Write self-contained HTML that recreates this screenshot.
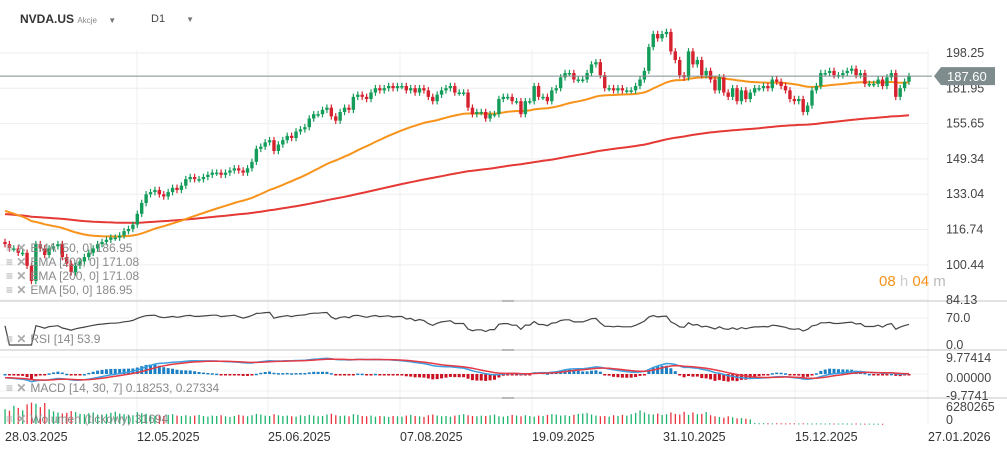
<!DOCTYPE html>
<html><head><meta charset="utf-8">
<style>
html,body{margin:0;padding:0;background:#fff;width:1007px;height:450px;overflow:hidden;font-family:"Liberation Sans",sans-serif;}
#wrap{position:relative;width:1007px;height:450px;}
svg{position:absolute;left:0;top:0;}
.lg{position:absolute;font-size:12px;color:#8a8a8a;white-space:nowrap;}
.ic{color:#aaa;font-weight:bold;margin-right:4px;}
</style></head><body>
<div id="wrap">
<svg id="chart" width="1007" height="450"></svg>
<div class="lg" style="left:20px;top:12px;color:#333;font-weight:bold;font-size:12px;">NVDA.US <span style="font-size:8px;color:#888;font-weight:normal">Akcje</span> <span style="font-size:8px;color:#777;margin-left:8px">▼</span></div>
<div class="lg" style="left:151px;top:13px;color:#444;font-size:11px;">D1 <span style="font-size:8px;color:#777;margin-left:18px">▼</span></div>
<div class="lg" style="left:6px;top:241px"><span class="ic">≡ ✕</span>EMA [50, 0] 186.95</div>
<div class="lg" style="left:6px;top:255px"><span class="ic">≡ ✕</span>EMA [200, 0] 171.08</div>
<div class="lg" style="left:6px;top:269px"><span class="ic">≡ ✕</span>EMA [200, 0] 171.08</div>
<div class="lg" style="left:6px;top:283px"><span class="ic">≡ ✕</span>EMA [50, 0] 186.95</div>
<div class="lg" style="left:6px;top:332px"><span class="ic">≡ ✕</span>RSI [14] 53.9</div>
<div class="lg" style="left:6px;top:381px"><span class="ic">≡ ✕</span>MACD [14, 30, 7] 0.18253, 0.27334</div>
<div class="lg" style="left:6px;top:412px"><span class="ic">≡ ✕</span>Wolumen (tickowy) 31694</div>
<div class="lg" style="left:879px;top:273px;font-size:15px;"><span style="color:#f7931a">08</span><span style="color:#ccc"> h </span><span style="color:#f7931a">04</span><span style="color:#bbb"> m</span></div>
</div>
<script>
const closes=[110,108,108,106,106,100,93,110,108,105,108,109,110,104,101,97,100,102,104,106,108,110,111,112,113,113,114,116,117,119,124,129,133,134,135,133,132,134,136,135,137,140,141,140,140,141,142,143,143,142,143,144,145,144,143,145,148,154,155,157,158,153,156,158,160,159,162,163,164,168,170,170,172,173,169,167,171,173,172,178,179,178,177,180,182,181,182,183,182,183,183,181,182,180,182,181,178,176,179,181,182,183,
180,180,180,173,170,171,171,168,170,170,177,178,178,176,176,170,176,176,183,178,178,176,181,182,187,189,189,186,186,186,189,193,194,188,182,182,181,182,181,181,181,183,186,190,201,207,205,207,208,199,195,188,187,199,193,195,188,190,186,181,187,180,178,182,176,181,177,180,182,182,183,182,186,185,183,181,177,176,177,171,174,181,183,189,189,190,188,188,189,190,191,188,189,184,184,184,186,183,187,189,178,182,185,187.6];
const volumes=[4200,3800,5200,4600,3900,5600,6100,5800,4800,6000,4200,3600,3300,3000,3200,3700,3400,2900,2800,3100,3300,2700,2600,2900,3200,3500,3000,2800,2600,2500,
3400,3100,2900,2600,2400,2500,2300,2600,2800,2400,2300,2500,2200,2400,2600,2300,2100,2400,2300,2500,2200,2000,2300,2600,2400,2200,2500,2900,2700,2400,2300,2800,2500,2300,2400,2200,2100,2500,2300,2600,2400,2200,2300,2700,2900,2500,2300,2400,2200,2800,2600,2300,2200,2400,2100,2300,2200,2000,2300,2200,2100,2400,2600,2300,2200,2000,2500,2700,2400,2200,
2300,2100,2400,2600,2800,2500,2300,2200,2400,2300,2500,2700,2200,2100,2300,2600,2400,2200,2500,2300,2100,2400,2300,2600,2800,2700,2400,2500,2300,2600,2900,3000,3100,2700,2400,2200,2300,2100,2500,2300,2600,2400,2800,3200,3900,3300,2800,2700,3000,2600,2800,3300,2900,2700,3500,2600,3300,2800,2900,3400,2500,2200,2000,1800,2200,1900,1600,1700,1500,1300,
260,220,240,200,180,210,190,170,200,180,160,190,170,150,180,160,140,170,150,130,160,140,120,150,130,110,120,100,90,80];
const priceTickVals=[198.25,181.95,165.65,149.34,133.04,116.74,100.44,84.13];
const priceTickLabels=["198.25","181.95","155.65","149.34","133.04","116.74","100.44","84.13"];
const dateLabels=["28.03.2025","12.05.2025","25.06.2025","07.08.2025","19.09.2025","31.10.2025","15.12.2025","27.01.2026"];
const rsiTicks=[70,0];
const macdTickVals=[9.77414,0,-9.77414];
const macdTickLabels=["9.77414","0.00000","-9.7741"];
const volTickVals=[6280265,0];
const emaSeeds=[126,124];
const lastPrice=187.60;

const svg=document.getElementById('chart');
const NS='http://www.w3.org/2000/svg';
function el(tag,attrs,parent){const e=document.createElementNS(NS,tag);for(const k in attrs)e.setAttribute(k,attrs[k]);(parent||svg).appendChild(e);return e;}
const X0=5,X1=909,n=closes.length;
const xOf=i=>X0+i*(X1-X0)/(n-1);
const yP=v=>53+(198.25-v)*35.3/16.3;
const yR=v=>345-v*27/70;
const yM=v=>374-v*17/9.77414;
const yV=v=>424-v/6280265*22;

const grid=el('g',{});


priceTickVals.forEach(v=>el('line',{x1:0,x2:928,y1:yP(v),y2:yP(v),stroke:'#eeeeee','stroke-width':1},grid));
[yR(70),yM(9.77414),yM(0),yM(-9.77414)].forEach(y=>el('line',{x1:0,x2:928,y1:y,y2:y,stroke:'#f0f0f0'},grid));
const gx=[5,137,268,400,532,663,795,928];
gx.slice(1).forEach(x=>el('line',{x1:x,x2:x,y1:50,y2:424,stroke:'#efefef'},grid));
[301,350,398].forEach(y=>{el('line',{x1:0,x2:1007,y1:y,y2:y,stroke:'#d8d8d8','stroke-width':1.5},grid);el('line',{x1:502,x2:514,y1:y,y2:y,stroke:'#bbb','stroke-width':2},grid);});

function ema(arr,p,seed){const a=2/(p+1);let e=seed,out=[];arr.forEach(v=>{e=e+a*(v-e);out.push(e);});return out;}
const ema50=ema(closes,50,emaSeeds[0]),ema200=ema(closes,200,emaSeeds[1]);
function pathOf(vals,yf){return vals.map((v,i)=>(i?'L':'M')+xOf(i).toFixed(1)+' '+yf(v).toFixed(1)).join(' ');}
const l200=el('path',{d:pathOf(ema200,yP),fill:'none',stroke:'#e53935','stroke-width':2});


const l50=el('path',{d:pathOf(ema50,yP),fill:'none',stroke:'#f7931a','stroke-width':2});



const cg=el('g',{});


closes.forEach((c,i)=>{
  const o=i?closes[i-1]:c+1;const up=c>=o;const col=up?'#149c5a':'#d6212e';
  const x=xOf(i);const hi=Math.max(o,c)+1.5,lo=Math.min(o,c)-1.5;
  const g=el('g',{},cg);
  
  
  el('line',{x1:x,x2:x,y1:yP(hi),y2:yP(lo),stroke:col,'stroke-width':1.2},g);
  const y1=yP(Math.max(o,c)),y2=yP(Math.min(o,c));
  el('rect',{x:x-1.7,y:y1,width:3.4,height:Math.max(1.5,y2-y1),fill:col},g);
});
el('line',{x1:0,x2:932,y1:yP(lastPrice),y2:yP(lastPrice),stroke:'#7f8c8d','stroke-width':1});

function rsi(arr,p){let ag=0,al=0,out=[];for(let i=0;i<arr.length;i++){const d=i?arr[i]-arr[i-1]:0;const g=Math.max(d,0),l=Math.max(-d,0);if(i<=p){ag+=g/p;al+=l/p;}else{ag=(ag*(p-1)+g)/p;al=(al*(p-1)+l)/p;}out.push(al===0?50:100-100/(1+ag/al));}return out;}
const rv=rsi(closes,14);
const rl=el('path',{d:pathOf(rv,yR),fill:'none',stroke:'#444','stroke-width':1.2});



const e14=ema(closes,14,closes[0]+4),e30=ema(closes,30,closes[0]+6);
const macd=e14.map((v,i)=>v-e30[i]);const sig=ema(macd,7,macd[0]);
const hg=el('g',{});


macd.forEach((m,i)=>{const h=(m-sig[i])*2.5;const y0=yM(0),y1=yM(h);el('rect',{x:xOf(i)-1.5,y:Math.min(y0,y1),width:3,height:Math.max(1.5,Math.abs(y1-y0)),fill:h>=0?'#1b7fc4':'#cc1122'},hg);});
const ml=el('path',{d:pathOf(macd,yM),fill:'none',stroke:'#3b9ede','stroke-width':1.5});


const sl=el('path',{d:pathOf(sig,yM),fill:'none',stroke:'#e53945','stroke-width':1.5});



const vg=el('g',{});


volumes.forEach((v,i)=>{const up=i?closes[i]>=closes[i-1]:true;const y=yV(v*1000);el('rect',{x:xOf(i)-0.6,y:y,width:1.3,height:Math.max(1,424-y),fill:up?'#1db46e':'#e8333f'},vg);});

function txt(s,x,y,attrs,name){const t=el('text',Object.assign({x:x,y:y,'font-size':12.5,fill:'#444','font-family':'Liberation Sans, sans-serif'},attrs||{}));t.textContent=s;return t;}
priceTickVals.forEach((v,k)=>txt(priceTickLabels[k],946,yP(v)+4,{},'price-tick'));
rsiTicks.forEach(v=>txt(v.toFixed(1),946,(v===0?345:yR(v))+4,{},'rsi-tick'));
macdTickVals.forEach((v,k)=>txt(macdTickLabels[k],946,[358,378,396][k]+4,{},'macd-tick'));
txt(String(volTickVals[0]),946,411,{},'volume-tick');
txt(String(volTickVals[1]),946,424,{},'volume-tick');
dateLabels.forEach((d,k)=>txt(d,gx[k],441,{fill:'#333'},'date-label'));

const pt=el('g',{});


const py=yP(lastPrice);
el('path',{d:`M934 ${py} L941 ${py-9} L995 ${py-9} L995 ${py+9} L941 ${py+9} Z`,fill:'#7f8c8d'},pt);
const tt=el('text',{x:947,y:py+5,'font-size':13,fill:'#fff','font-family':'Liberation Sans, sans-serif'},pt);tt.textContent=lastPrice.toFixed(2);
</script>
</body></html>
